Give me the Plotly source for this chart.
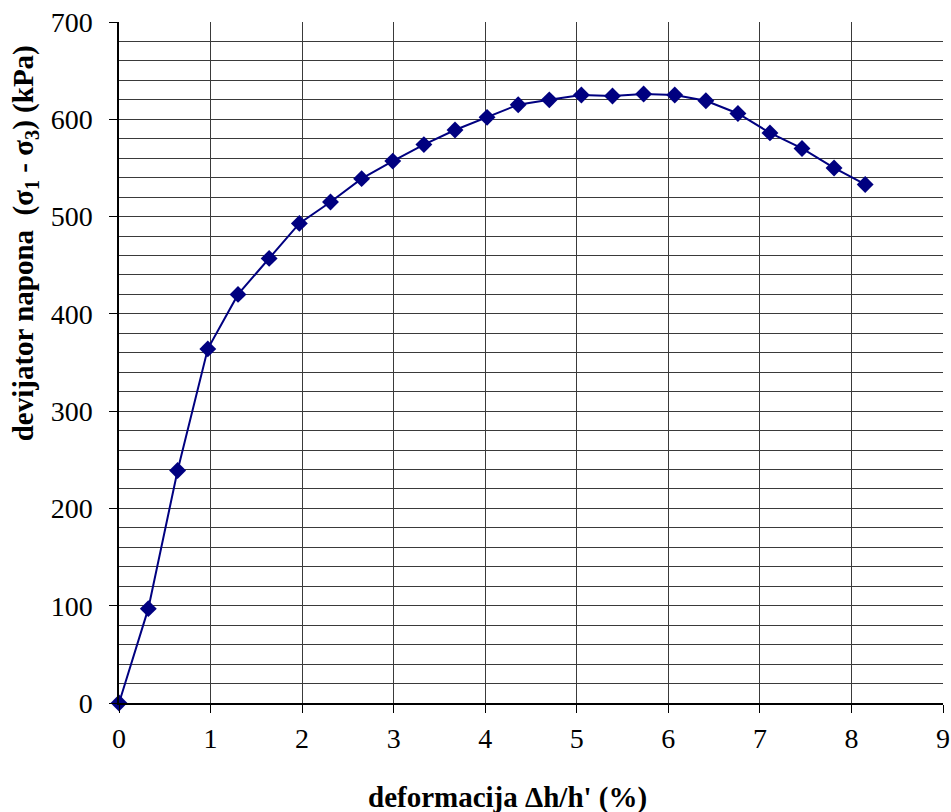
import plotly.graph_objects as go

deformacija = [0, 0.32, 0.64, 0.97, 1.30, 1.64, 1.97, 2.31, 2.65, 2.99, 3.33, 3.67,
               4.02, 4.36, 4.70, 5.05, 5.39, 5.73, 6.07, 6.41, 6.76, 7.11, 7.46, 7.81, 8.15]
devijator = [0, 97, 239, 364, 420, 457, 493, 515, 539, 557, 574, 589,
             602, 615, 620, 625, 624, 626, 625, 619, 606, 586, 570, 550, 533]

x_ticks = list(range(0, 10))
y_ticks = list(range(0, 800, 100))

x_title = "<b>deformacija Δh/h' (%)</b>"
y_title = "<b>devijator napona \u00a0(σ<sub>1</sub> - σ<sub>3</sub>) (kPa)</b>"

fig = go.Figure()
fig.add_trace(go.Scatter(
    x=deformacija, y=devijator, mode="lines+markers",
    line=dict(color="#000080", width=2),
    marker=dict(symbol="diamond", size=13, color="#000080"),
    showlegend=False,
    cliponaxis=False,
))

font_fam = "Liberation Serif"
grid_col = "#3a3a3a"
fig.update_layout(
    width=951, height=812,
    margin=dict(l=119, r=8, t=22, b=109, autoexpand=False),
    paper_bgcolor="white", plot_bgcolor="white",
    font=dict(family=font_fam, color="black"),
)
fig.update_xaxes(
    range=[0, 9], tickvals=x_ticks, ticktext=[str(v) for v in x_ticks],
    showgrid=True, gridcolor=grid_col, gridwidth=1,
    showline=True, linecolor="black", linewidth=1.5,
    ticks="outside", ticklen=8, tickcolor="black",
    tickfont=dict(size=28, family=font_fam), ticklabelstandoff=2,
    ticklabeloverflow="allow",
    zeroline=False, automargin=False,
)
fig.update_yaxes(
    range=[0, 700], tickvals=y_ticks, ticktext=[str(v) for v in y_ticks],
    showgrid=True, gridcolor=grid_col, gridwidth=1,
    minor=dict(dtick=20, showgrid=True, gridcolor=grid_col, gridwidth=1, ticks=""),
    showline=True, linecolor="black", linewidth=1.5,
    ticks="outside", ticklen=8, tickcolor="black",
    tickfont=dict(size=28, family=font_fam), ticklabelstandoff=11,
    ticklabeloverflow="allow",
    zeroline=False, automargin=False,
)

fig.add_annotation(
    text=x_title, xref="paper", yref="paper", x=0.471, y=0,
    xanchor="center", yanchor="middle", yshift=-94, showarrow=False,
    font=dict(size=29, family=font_fam, color="black"),
)
fig.add_annotation(
    text=y_title, xref="paper", yref="paper", x=0, y=0.675,
    xanchor="center", yanchor="middle", xshift=-94, textangle=-90, showarrow=False,
    font=dict(size=29, family=font_fam, color="black"),
)

fig.write_html("out.html", config={"displayModeBar": False},
               post_script="document.body.style.margin='0';")
